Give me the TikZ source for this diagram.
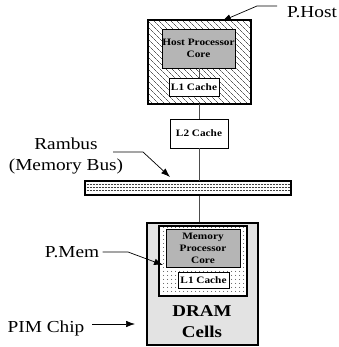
\documentclass[tikz,border=0pt]{standalone}
\usepackage{fontspec}
\setmainfont{Liberation Serif}[FakeStretch=1.15]
\usetikzlibrary{patterns,patterns.meta,arrows.meta}
\begin{document}
\begin{tikzpicture}[x=1pt,y=-1pt,
  box/.style={draw,line width=0.8pt,inner sep=0pt},
  small/.style={font=\fontsize{9.8}{12}\selectfont\bfseries,align=center},
  lab/.style={font=\fontsize{16.8}{21.5}\selectfont,align=center},
  conn/.style={draw,line width=0.6pt,black!70},
  busdash/.style={draw,line width=0.9pt,black!75,dash pattern=on 2pt off 1pt},
  pointer/.style={draw,line width=0.7pt,-{Latex[length=9pt,width=6.5pt]}}]
\useasboundingbox (0,0) rectangle (338,347);
% host
\path[draw,line width=1.8pt,pattern={Lines[angle=-45,distance=4pt,line width=0.4pt]}] (148,20) rectangle (251,104);
\node[box,fill=gray!58,minimum width=73pt,minimum height=39pt,small] (hcore) at (198.5,48.5) {Host Processor\\Core};
\node[box,fill=white,minimum width=50pt,minimum height=18pt,small] (hl1) at (194,87) {L1 Cache};
\node[box,fill=white,minimum width=58pt,minimum height=29pt,small] (l2) at (199,133.5) {L2 Cache};
% bus
\node[draw,line width=1pt,fill=white,minimum width=206pt,minimum height=14pt,inner sep=0pt] (bus) at (188,188) {};
\foreach \yy in {184,187.2,190.4} \draw[busdash] (86.5,\yy) -- (289.5,\yy);
\node[draw,line width=1.2pt,minimum width=206pt,minimum height=14pt,inner sep=0pt] (busframe) at (188,188) {};
% PIM chip
\node[draw,line width=1.3pt,fill=gray!22,minimum width=111pt,minimum height=122pt,inner sep=0pt] (pim) at (202.5,284) {};
\node[draw,line width=1.3pt,fill=white,minimum width=88pt,minimum height=70pt,inner sep=0pt] (pmembg) at (203,261) {};
\node[draw,line width=1.3pt,pattern={Dots[distance=4pt,radius=0.5pt]},minimum width=88pt,minimum height=70pt,inner sep=0pt] (pmem) at (203,261) {};
\node[box,fill=gray!58,minimum width=74pt,minimum height=38pt,small] (mcore) at (203,248) {Memory\\Processor\\Core};
\node[box,fill=white,minimum width=51pt,minimum height=16pt,small] (ml1) at (203.5,280) {L1 Cache};
\node[font=\fontsize{16.5}{21}\selectfont\bfseries,align=center] (dram) at (202,322) {DRAM\\Cells};
% connectors
\draw[conn] (199,68) -- (199,78);
\draw[conn] (199,104) -- (l2.north);
\draw[conn] (l2.south) -- (l2.south |- bus.north);
\draw[conn] (l2.south |- bus.south) -- (l2.south |- pim.north);
% labels
\node[lab] (phost) at (312,12) {P.Host};
\coordinate (ph1) at (277,6);
\coordinate (ph2) at (257,6);
\coordinate (ph3) at (222,21);
\draw[pointer] (ph1) -- (ph2) -- (ph3);
\node[lab] (rambus) at (66,156) {Rambus\\(Memory Bus)};
\coordinate (rb1) at (113,152);
\coordinate (rb2) at (143,152);
\coordinate (rb3) at (170,177);
\draw[pointer] (rb1) -- (rb2) -- (rb3);
\node[lab] (pmemlab) at (72,252) {P.Mem};
\coordinate (pm2) at (128,252);
\coordinate (pm3) at (163,265);
\draw[pointer] (pmemlab.east) -- (pm2) -- (pm3);
\node[lab] (pimlab) at (46,328) {PIM Chip};
\coordinate (pc1) at (92,324);
\coordinate (pc2) at (135,324);
\draw[pointer] (pc1) -- (pc2);
\end{tikzpicture}
\end{document}
